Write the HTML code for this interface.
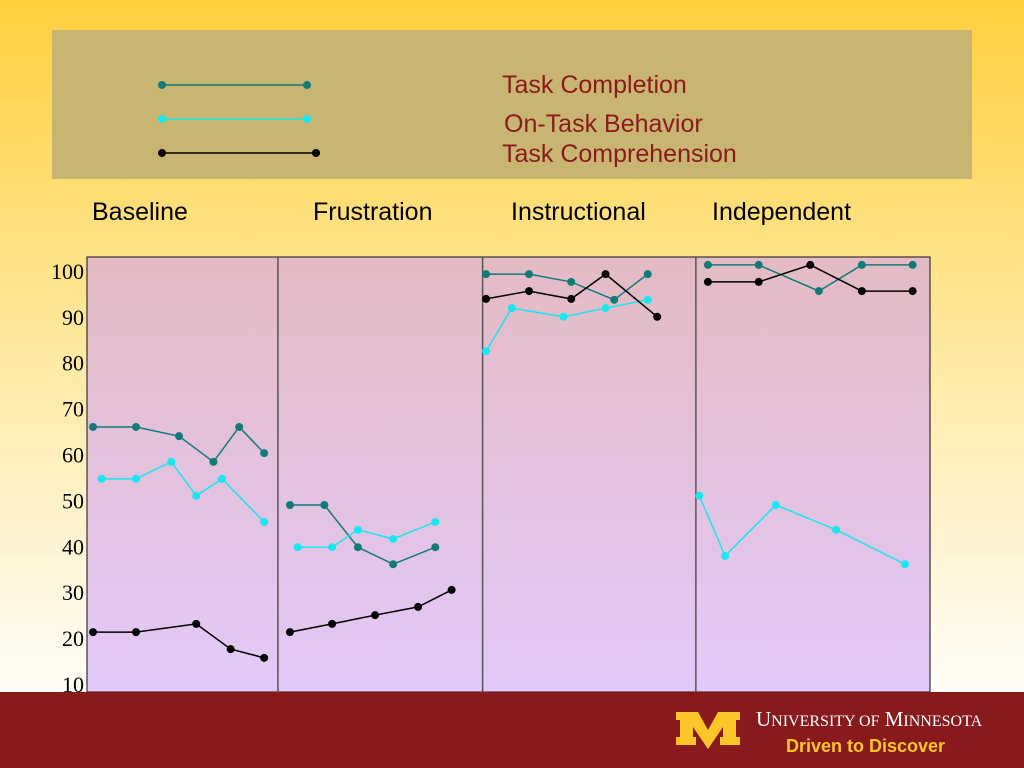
<!DOCTYPE html>
<html><head><meta charset="utf-8"><style>
body{margin:0;width:1024px;height:768px;overflow:hidden;font-family:"Liberation Sans",sans-serif;}
#bg{position:absolute;left:0;top:0;width:1024px;height:768px;background:linear-gradient(#ffcf3c 0%,#ffe9a0 45%,#fff8e6 80%,#fffdf6 90%);}
</style></head><body>
<div id="bg"></div>
<svg id="c" width="1024" height="768" style="position:absolute;left:0;top:0">
<defs><linearGradient id="pg" x1="0" y1="0" x2="0" y2="1"><stop offset="0" stop-color="#e4bbc4"/><stop offset="1" stop-color="#e2c9f8"/></linearGradient></defs>
<rect x="52" y="30" width="920" height="149" fill="#c9b572"/>
<g><line x1="162" y1="85" x2="307" y2="85" stroke="#117b78" stroke-width="1.5"/><circle cx="162" cy="85" r="4" fill="#117b78"/><circle cx="307" cy="85" r="4" fill="#117b78"/><text x="502" y="93" font-size="25" fill="#8b1a1a">Task Completion</text></g>
<g><line x1="162" y1="119" x2="307" y2="119" stroke="#19e6ee" stroke-width="1.5"/><circle cx="162" cy="119" r="4" fill="#19e6ee"/><circle cx="307" cy="119" r="4" fill="#19e6ee"/><text x="504" y="132" font-size="25" fill="#8b1a1a">On-Task Behavior</text></g>
<g><line x1="162" y1="153" x2="316" y2="153" stroke="#000" stroke-width="1.5"/><circle cx="162" cy="153" r="4" fill="#000"/><circle cx="316" cy="153" r="4" fill="#000"/><text x="502" y="162" font-size="25" fill="#8b1a1a">Task Comprehension</text></g>
<text x="92" y="220" font-size="25">Baseline</text>
<text x="313" y="220" font-size="25">Frustration</text>
<text x="511" y="220" font-size="25">Instructional</text>
<text x="712" y="220" font-size="25">Independent</text>
<rect x="87" y="257" width="843" height="435" fill="url(#pg)" stroke="#333" stroke-width="1.2"/>
<g id="dividers"></g><g id="ticks"></g><g id="series"></g>
<rect x="0" y="692" width="1024" height="76" fill="#891a1c"/>
<g>
<path d="M676 712 h22 l10 18 l10 -18 h22 v8 h-4 v17 h4 v8 h-20 v-8 h3 v-10 l-15 22 l-15 -22 v10 h3 v8 h-20 v-8 h4 v-17 h-4z" fill="#fcc52a"/>
<text x="756" y="726" font-family="Liberation Serif,serif" font-size="21" fill="#fff">U<tspan font-size="16">NIVERSITY OF</tspan> M<tspan font-size="16">INNESOTA</tspan></text>
<text x="786" y="752" font-size="18" font-weight="bold" fill="#fcc52a">Driven to Discover</text>
</g>
</svg>
<script>
const yTicks=[10,20,30,40,50,60,70,80,90,100];
const phaseBounds=[22.2,46.0,70.8];
const tcX1=[0.7,5.7,10.7,14.7,17.7,20.6], tcY1=[66,66,64,58.4,66,60.3];
const otX1=[1.7,5.7,9.8,12.7,15.7,20.6], otY1=[54.7,54.7,58.4,51,54.7,45.3];
const cmX1=[0.7,5.7,12.7,16.7,20.6], cmY1=[21.3,21.3,23.1,17.6,15.7];
const tcX2=[23.6,27.6,31.5,35.6,40.5], tcY2=[49,49,39.8,36.1,39.8];
const otX2=[24.5,28.5,31.5,35.6,40.5], otY2=[39.8,39.8,43.6,41.6,45.3];
const cmX2=[23.6,28.5,33.5,38.5,42.4], cmY2=[21.3,23.1,25,26.8,30.5];
const tcX3=[46.4,51.4,56.3,61.3,65.2], tcY3=[99.3,99.3,97.6,93.7,99.3];
const otX3=[46.4,49.4,55.4,60.3,65.2], otY3=[82.5,91.9,90,91.9,93.7];
const cmX3=[46.4,51.4,56.3,60.3,66.3], cmY3=[93.9,95.6,93.9,99.3,90];
const tcX4=[72.2,78.1,85.1,90.1,96.0], tcY4=[101.3,101.3,95.6,101.3,101.3];
const otX4=[71.2,74.2,80.1,87.1,95.1], otY4=[51,37.9,49,43.6,36.1];
const cmX4=[72.2,78.1,84.1,90.1,96.0], cmY4=[97.6,97.6,101.3,95.6,95.6];
const xs=d=>87+d*8.6, ys=v=>684-(v-10)*4.59;
const NS='http://www.w3.org/2000/svg';
function mk(t,a,p){const e=document.createElementNS(NS,t);for(const k in a)e.setAttribute(k,a[k]);p.appendChild(e);return e;}
const dv=document.getElementById('dividers');
phaseBounds.forEach(b=>{const l=mk('line',{x1:xs(b),x2:xs(b),y1:257,y2:692,stroke:'#555','stroke-width':1.5},dv);

});
const tk=document.getElementById('ticks');
yTicks.forEach(v=>{const t=mk('text',{x:84,y:ys(v)+8,'text-anchor':'end','font-size':22,'font-family':'Liberation Serif,serif'},tk);t.textContent=v;

});
const sg=document.getElementById('series');
function draw(X,Y,col,name){const g=mk('g',{},sg);


mk('polyline',{points:X.map((x,i)=>xs(x)+','+ys(Y[i])).join(' '),fill:'none',stroke:col,'stroke-width':1.5},g);
X.forEach((x,i)=>{const c=mk('circle',{cx:xs(x),cy:ys(Y[i]),r:4,fill:col},g);

});}
const TC='#117b78',OT='#19e6ee',CM='#000';
draw(tcX1,tcY1,TC,'task-completion-baseline');draw(otX1,otY1,OT,'on-task-baseline');draw(cmX1,cmY1,CM,'comprehension-baseline');
draw(tcX2,tcY2,TC,'task-completion-frustration');draw(otX2,otY2,OT,'on-task-frustration');draw(cmX2,cmY2,CM,'comprehension-frustration');
draw(tcX3,tcY3,TC,'task-completion-instructional');draw(otX3,otY3,OT,'on-task-instructional');draw(cmX3,cmY3,CM,'comprehension-instructional');
draw(tcX4,tcY4,TC,'task-completion-independent');draw(otX4,otY4,OT,'on-task-independent');draw(cmX4,cmY4,CM,'comprehension-independent');
</script>
</body></html>
